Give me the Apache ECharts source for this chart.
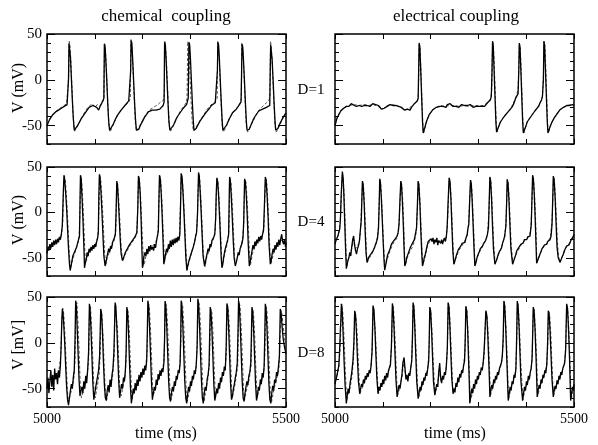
<!DOCTYPE html>
<html>
<head>
<meta charset="utf-8">
<script src="https://cdn.jsdelivr.net/npm/echarts@6/dist/echarts.min.js"></script>
<style>
  html, body { margin: 0; padding: 0; background: #fff; }
  #chart { width: 598px; height: 445px; }
</style>
</head>
<body>
<div id="chart"></div>
<script>
// membrane potential traces, [time (ms), V (mV)], solid = neuron 1, dashed = neuron 2
var chemD1S = [[5000,-50],[5003,-46],[5006,-43],[5009,-41],[5012,-38],[5015,-37],[5018,-35],[5021,-34],[5024,-33],[5027,-31],[5030,-31],[5033,-29],[5036,-29],[5039,-27],[5042,-27],[5044,-25],[5045,0],[5046,40],[5047.5,38],[5049,25],[5051,2],[5053,-22],[5055,-42],[5057,-55],[5058.5,-57],[5061,-55],[5064,-50],[5068,-46],[5072,-42],[5076,-39],[5080,-37],[5084,-33],[5088,-30],[5092,-29],[5096,-28],[5100,-27],[5104,-30],[5108,-33],[5111,-29],[5114,-26],[5117,-24],[5119,-20],[5120,39],[5121.5,36],[5123,22],[5125,0],[5127,-25],[5129,-45],[5131,-55],[5132.5,-57],[5135,-54],[5139,-48],[5143,-43],[5147,-39],[5151,-36],[5155,-33],[5159,-31],[5163,-28],[5167,-26],[5171,-23],[5174,-21],[5175,10],[5176,43],[5177.5,40],[5179,25],[5181,2],[5183,-22],[5185,-42],[5187,-55],[5189,-57],[5192,-54],[5196,-49],[5200,-45],[5204,-41],[5208,-38],[5212,-35],[5216,-34],[5220,-33],[5224,-32],[5228,-33],[5232,-31],[5236,-32],[5240,-30],[5243,-28],[5245,-24],[5246,41],[5247.5,38],[5249,24],[5251,0],[5253,-24],[5255,-45],[5257,-55],[5258.5,-57],[5261,-54],[5265,-49],[5269,-44],[5273,-40],[5277,-37],[5281,-34],[5285,-31],[5289,-29],[5292,-27],[5294,-26],[5295.5,-20],[5297,41],[5298.5,38],[5300,24],[5302,0],[5304,-24],[5306,-45],[5307.5,-55],[5309,-56],[5312,-53],[5316,-49],[5320,-45],[5324,-42],[5328,-39],[5332,-36],[5336,-34],[5340,-31],[5344,-28],[5348,-26],[5352,-25],[5355,-24],[5356.5,10],[5357.5,41],[5359,38],[5360.5,24],[5362.5,0],[5364.5,-24],[5366.5,-45],[5368,-55],[5369.5,-57],[5372,-54],[5376,-49],[5380,-44],[5384,-40],[5388,-36],[5392,-34],[5396,-32],[5400,-29],[5403,-27],[5406,-24],[5407,5],[5408,39],[5409.5,36],[5411,22],[5413,0],[5415,-24],[5417,-45],[5418.5,-55],[5420,-57],[5423,-54],[5427,-49],[5431,-44],[5435,-40],[5439,-37],[5443,-34],[5447,-34],[5451,-32],[5455,-33],[5459,-30],[5463,-32],[5466,-28],[5467,10],[5468,38],[5469.5,36],[5471,22],[5473,0],[5475,-24],[5477,-45],[5478.5,-55],[5480,-57],[5483,-53],[5487,-48],[5491,-44],[5495,-40],[5500,-36]];
var chemD1D = [[5000,-48],[5006,-42],[5012,-38],[5018,-35],[5024,-32],[5030,-30],[5036,-28],[5041,-26],[5044,-24],[5045.5,5],[5046.5,42],[5048,38],[5050,20],[5052,-5],[5054,-30],[5056,-48],[5058,-56],[5061,-55],[5066,-48],[5072,-42],[5078,-36],[5084,-31],[5090,-28],[5095,-26],[5100,-30],[5105,-27],[5110,-29],[5115,-25],[5119,-22],[5120.5,40],[5122,36],[5124,15],[5126,-10],[5128,-35],[5130,-52],[5132,-57],[5136,-52],[5142,-45],[5148,-38],[5154,-34],[5160,-30],[5166,-27],[5171,-24],[5174.5,-20],[5175.5,44],[5177,40],[5179,22],[5181,-2],[5183,-28],[5185,-48],[5187.5,-56],[5191,-54],[5196,-48],[5202,-42],[5208,-37],[5214,-33],[5220,-31],[5226,-29],[5232,-27],[5238,-24],[5243,-23],[5245.5,-15],[5246.5,42],[5248,38],[5250,20],[5252,-5],[5254,-30],[5256,-50],[5258.5,-56],[5262,-53],[5268,-46],[5274,-39],[5280,-33],[5286,-29],[5291,-25],[5293,-20],[5294.5,42],[5296,38],[5298,20],[5300,-5],[5302,-30],[5304,-48],[5306.5,-56],[5310,-54],[5316,-48],[5322,-43],[5328,-38],[5334,-33],[5340,-29],[5346,-26],[5352,-24],[5356,-20],[5357,42],[5358.5,38],[5360.5,20],[5362.5,-5],[5364.5,-30],[5366.5,-50],[5369,-57],[5373,-53],[5379,-46],[5385,-39],[5391,-34],[5397,-31],[5403,-27],[5406.5,-20],[5407.5,40],[5409,36],[5411,20],[5413,-5],[5415,-30],[5417,-50],[5419.5,-57],[5423,-54],[5429,-47],[5435,-41],[5441,-35],[5447,-31],[5453,-28],[5459,-25],[5464,-23],[5466.5,-18],[5467.5,42],[5469,38],[5471,20],[5473,-5],[5475,-30],[5477,-50],[5479.5,-57],[5483,-54],[5489,-47],[5495,-40],[5500,-36]];

var elecD1S = [[5000,-50],[5002,-46],[5004,-42],[5006,-40],[5009,-37],[5012,-34],[5015,-33],[5018,-31],[5021,-30],[5024,-29],[5027,-27],[5029,-29],[5031,-28],[5034,-26],[5036,-28],[5038,-25],[5040,-28],[5043,-27],[5045,-29],[5047,-27],[5050,-28],[5053,-26],[5056,-29],[5058,-27],[5061,-28],[5064,-26],[5067,-28],[5070,-27],[5073,-29],[5076,-27],[5079,-26],[5082,-28],[5085,-27],[5088,-29],[5091,-28],[5094,-30],[5097,-32],[5100,-33],[5103,-31],[5106,-30],[5109,-29],[5112,-28],[5115,-27],[5118,-26],[5121,-28],[5124,-27],[5127,-28],[5130,-27],[5133,-29],[5136,-28],[5139,-30],[5142,-32],[5145,-33],[5148,-34],[5151,-32],[5154,-31],[5157,-33],[5160,-30],[5163,-28],[5166,-26],[5169,-24],[5172,-23],[5174,-20],[5175,10],[5176,40],[5177.5,36],[5179,15],[5181,-15],[5183,-45],[5184.5,-58],[5186,-57],[5188,-52],[5191,-46],[5194,-42],[5197,-38],[5200,-36],[5204,-33],[5208,-31],[5212,-30],[5216,-28],[5220,-29],[5223,-27],[5226,-29],[5229,-28],[5232,-30],[5235,-27],[5238,-28],[5241,-26],[5244,-28],[5247,-29],[5250,-27],[5253,-29],[5256,-28],[5259,-30],[5262,-28],[5265,-27],[5268,-29],[5271,-28],[5274,-30],[5277,-28],[5280,-29],[5283,-27],[5286,-28],[5289,-30],[5292,-28],[5295,-29],[5298,-28],[5301,-29],[5304,-27],[5307,-29],[5310,-28],[5313,-29],[5316,-27],[5319,-25],[5322,-24],[5325,-22],[5327,-18],[5328.5,10],[5329.5,42],[5331,38],[5332.5,15],[5334.5,-15],[5336.5,-45],[5338,-57],[5340,-56],[5343,-50],[5346,-46],[5350,-43],[5354,-40],[5358,-38],[5362,-35],[5366,-33],[5370,-30],[5374,-26],[5378,-20],[5383,-15],[5384.5,10],[5385.5,40],[5387,36],[5388.5,15],[5390.5,-15],[5392.5,-45],[5394,-58],[5396,-57],[5399,-51],[5402,-46],[5406,-43],[5410,-40],[5414,-37],[5418,-34],[5422,-32],[5426,-29],[5429,-25],[5432,-22],[5434,-18],[5436,0],[5437,42],[5438.5,38],[5440,15],[5442,-15],[5444,-45],[5445.5,-58],[5447.5,-57],[5450,-51],[5454,-46],[5458,-42],[5462,-39],[5466,-36],[5470,-33],[5474,-32],[5478,-30],[5482,-29],[5485,-28],[5488,-27],[5491,-28],[5494,-26],[5497,-27],[5500,-28]];
var elecD1D = [[5000,-49],[5004,-42],[5008,-37],[5013,-33],[5018,-31],[5024,-29],[5030,-28],[5040,-27],[5050,-28],[5060,-27],[5070,-28],[5080,-27],[5090,-29],[5100,-32],[5110,-28],[5120,-27],[5130,-28],[5140,-31],[5148,-33],[5155,-31],[5162,-28],[5168,-25],[5173,-22],[5174.5,-15],[5175.5,20],[5176.3,41],[5178,35],[5180,10],[5182,-22],[5184,-50],[5185.5,-58],[5188,-53],[5192,-45],[5196,-40],[5200,-36],[5206,-32],[5212,-30],[5220,-28],[5230,-29],[5240,-28],[5250,-28],[5260,-29],[5270,-28],[5280,-29],[5290,-28],[5300,-28],[5310,-28],[5316,-26],[5322,-23],[5326,-20],[5328,-10],[5329,25],[5330,42],[5331.5,37],[5333.5,12],[5335.5,-20],[5337.5,-50],[5339,-57],[5342,-52],[5346,-46],[5352,-41],[5358,-37],[5364,-34],[5370,-29],[5376,-22],[5380,-17],[5383,-10],[5384.5,15],[5385.8,40],[5387.5,35],[5389.5,12],[5391.5,-20],[5393.5,-50],[5395,-58],[5398,-53],[5402,-46],[5408,-41],[5414,-37],[5420,-33],[5426,-28],[5431,-23],[5434,-18],[5436,5],[5437.3,42],[5439,37],[5441,12],[5443,-20],[5445,-50],[5446.5,-58],[5449,-53],[5453,-47],[5458,-42],[5464,-37],[5470,-33],[5478,-30],[5486,-28],[5494,-27],[5500,-28]];

var chemD4S = [[5000,-45],[5002,-38],[5004,-42],[5006,-35],[5008,-40],[5010,-33],[5012,-38],[5014,-31],[5016,-36],[5018,-30],[5020,-35],[5022,-29],[5024,-33],[5026,-27],[5028,-30],[5030,-24],[5032,-15],[5034,20],[5035.5,41],[5037,36],[5039,22],[5041,5],[5043,-18],[5045,-40],[5047,-57],[5048.5,-64],[5050,-60],[5052,-54],[5054,-48],[5056,-50],[5058,-43],[5060,-45],[5062,-38],[5064,-36],[5066,-30],[5068,-26],[5069,10],[5070,41],[5071.5,37],[5073,20],[5075,-5],[5077,-35],[5078.5,-61],[5080,-56],[5082,-52],[5084,-44],[5086,-48],[5088,-40],[5090,-44],[5092,-38],[5094,-42],[5096,-36],[5098,-40],[5100,-35],[5102,-38],[5104,-32],[5106,-28],[5107.5,-20],[5108.5,20],[5109.6,42],[5111,38],[5113,22],[5115,0],[5117,-25],[5119,-48],[5121.5,-59],[5123,-56],[5125,-50],[5127,-45],[5129,-40],[5131,-44],[5133,-37],[5135,-40],[5137,-33],[5139,-35],[5141,-28],[5143,-24],[5144.5,0],[5146,34.5],[5147.5,30],[5149,15],[5151,-5],[5153,-28],[5155,-45],[5157.8,-53],[5160,-50],[5162,-47],[5164,-44],[5166,-46],[5168,-40],[5170,-42],[5172,-36],[5174,-38],[5176,-33],[5178,-34],[5180,-30],[5182,-31],[5184,-27],[5186,-28],[5188,-22],[5190,5],[5191.3,40],[5193,36],[5195,20],[5197,-10],[5198.5,-40],[5199.7,-61],[5201,-58],[5203,-48],[5205,-44],[5207,-48],[5209,-40],[5211,-46],[5213,-37],[5215,-43],[5217,-36],[5219,-41],[5221,-38],[5223,-42],[5225,-35],[5227,-39],[5229,-32],[5231,-30],[5233,-20],[5234,10],[5235.3,41],[5237,37],[5239,20],[5241,-5],[5243,-35],[5244.4,-57],[5246,-53],[5248,-46],[5250,-40],[5252,-44],[5254,-35],[5256,-40],[5258,-31],[5260,-38],[5262,-30],[5264,-36],[5266,-29],[5268,-34],[5270,-28],[5272,-33],[5274,-27],[5276,-31],[5278,-24],[5279.5,10],[5280.7,43],[5282.5,39],[5284.5,22],[5286.5,0],[5288.5,-25],[5290.5,-50],[5292.6,-64],[5294,-60],[5296,-55],[5300,-48],[5303,-43],[5306,-38],[5309,-32],[5311,-26],[5313,-22],[5315,0],[5317,44],[5318.5,40],[5320.5,22],[5322.5,0],[5324.5,-25],[5326.5,-48],[5329.6,-59],[5331,-56],[5333,-50],[5335,-45],[5337,-40],[5339,-43],[5341,-35],[5343,-38],[5345,-31],[5347,-33],[5349,-27],[5351,-24],[5353,-5],[5354,20],[5355.4,38],[5357,34],[5359,18],[5361,-5],[5363,-30],[5364.5,-50],[5366,-61],[5368,-56],[5370,-48],[5372,-42],[5374,-38],[5376,-34],[5378,-30],[5380,-24],[5381,10],[5382,39],[5383.5,35],[5385.5,18],[5387.5,-5],[5389.5,-30],[5391.5,-50],[5393.9,-59],[5396,-55],[5398,-50],[5400,-44],[5402,-47],[5404,-40],[5406,-42],[5408,-34],[5410,-28],[5411.5,-10],[5413.4,37],[5415,34],[5417,18],[5419,-5],[5421,-35],[5423.2,-59],[5425,-55],[5427,-48],[5429,-42],[5431,-36],[5433,-40],[5435,-32],[5437,-37],[5439,-30],[5441,-34],[5443,-27],[5445,-32],[5447,-26],[5449,-30],[5451,-24],[5453,-20],[5455,10],[5456.7,39],[5458.5,35],[5460.5,18],[5462.5,-5],[5464.5,-35],[5467.2,-57],[5469,-53],[5471,-46],[5473,-40],[5475,-44],[5477,-36],[5479,-41],[5481,-33],[5483,-38],[5485,-30],[5487,-36],[5489,-29],[5491,-24],[5493,-32],[5495,-35],[5497,-30],[5499,-38],[5500,-33]];
var chemD4D = [[5000,-40],[5005,-36],[5010,-37],[5015,-33],[5020,-32],[5025,-29],[5030,-26],[5033,-10],[5035,30],[5036.5,40],[5038.5,35],[5041,15],[5043.5,-10],[5046,-40],[5049,-62],[5052,-55],[5056,-48],[5060,-42],[5064,-35],[5067,-28],[5069,0],[5070.5,40],[5072.5,35],[5075,12],[5077.5,-20],[5080,-55],[5083,-52],[5088,-44],[5093,-40],[5098,-37],[5103,-33],[5107,-25],[5109,10],[5110.5,41],[5112.5,36],[5115,15],[5117.5,-10],[5120,-40],[5122.5,-58],[5126,-50],[5131,-43],[5136,-37],[5141,-30],[5144,-20],[5146,30],[5147.5,33],[5150,15],[5152.5,-10],[5155,-38],[5158.5,-54],[5163,-47],[5168,-42],[5173,-37],[5178,-33],[5183,-29],[5188,-24],[5190,10],[5191.5,41],[5193.5,36],[5196,15],[5198.5,-15],[5201,-45],[5203,-58],[5208,-46],[5213,-41],[5218,-38],[5223,-36],[5228,-32],[5232,-25],[5234,10],[5235.8,40],[5238,35],[5240.5,12],[5243,-20],[5245.5,-52],[5248,-50],[5253,-42],[5258,-37],[5263,-33],[5268,-31],[5273,-28],[5277,-24],[5279,5],[5281,42],[5283,38],[5285.5,18],[5288,-10],[5290.5,-40],[5293.5,-63],[5297,-55],[5302,-45],[5307,-36],[5311,-27],[5314,-15],[5316,20],[5317.5,43],[5319.5,38],[5322,15],[5324.5,-15],[5327,-45],[5330.5,-60],[5334,-50],[5339,-42],[5344,-35],[5349,-28],[5352,-20],[5354,15],[5356,37],[5358,33],[5360.5,12],[5363,-20],[5365.5,-50],[5367,-60],[5371,-48],[5376,-37],[5380,-26],[5381.5,0],[5383,38],[5385,33],[5387.5,10],[5390,-20],[5392.5,-50],[5394.5,-58],[5399,-48],[5404,-41],[5409,-30],[5411.5,-15],[5413,20],[5414.5,36],[5416.5,32],[5419,10],[5421.5,-20],[5424,-50],[5425.5,-58],[5430,-45],[5435,-38],[5440,-33],[5445,-30],[5450,-26],[5454,-15],[5456,20],[5457.5,38],[5459.5,34],[5462,12],[5464.5,-20],[5467,-50],[5469,-56],[5474,-45],[5479,-38],[5484,-34],[5489,-30],[5494,-33],[5500,-35]];

var elecD4S = [[5000,-35],[5002,-31],[5004,-29],[5006,-26],[5008,-22],[5010,-18],[5011.5,-5],[5013,20],[5015.4,45],[5017,38],[5018.5,20],[5020,-5],[5021.5,-30],[5022.8,-50],[5023.7,-62],[5025,-60],[5027,-53],[5029,-50],[5031,-44],[5033,-48],[5035,-38],[5037,-30],[5039,-26],[5041,-36],[5043,-42],[5045,-46],[5047,-40],[5049,-37],[5051,-32],[5053,-20],[5055,-8],[5057.3,34.5],[5059,30],[5061,10],[5063,-20],[5065,-45],[5067,-55],[5069,-52],[5071,-49],[5073,-51],[5075,-46],[5077,-48],[5079,-43],[5081,-41],[5083,-38],[5085,-36],[5087,-32],[5089,-28],[5091,-17],[5092.5,10],[5093.6,37],[5095,33],[5097,15],[5099,-10],[5101,-35],[5102.5,-52],[5104,-63.6],[5106,-58],[5108,-52],[5110,-47],[5112,-49],[5114,-42],[5116,-40],[5118,-35],[5120,-37],[5122,-32],[5124,-33],[5126,-29],[5128,-30],[5130,-26],[5132,-22],[5134,-13],[5136,15],[5137.6,34.5],[5139,31],[5141,12],[5143,-15],[5144.5,-40],[5146,-59],[5148,-56],[5150,-50],[5152,-48],[5154,-44],[5156,-42],[5158,-38],[5160,-40],[5162,-34],[5164,-33],[5166,-30],[5168,-28],[5170.6,-17],[5172.5,10],[5173.9,34.5],[5175.5,30],[5177.5,10],[5179.5,-20],[5181.5,-45],[5183,-59],[5185,-55],[5187,-49],[5189,-46],[5191,-41],[5193,-36],[5195,-32],[5197,-30],[5199,-34],[5201,-29],[5203,-32],[5205,-28],[5207,-35],[5209,-30],[5211,-33],[5213,-28],[5215,-36],[5217,-31],[5219,-29],[5221,-34],[5223,-30],[5225,-35],[5227,-31],[5229,-28],[5231,-32],[5233,-26],[5234.6,-17],[5236.5,10],[5238.8,38],[5240.5,34],[5242.5,15],[5244.5,-15],[5246.5,-42],[5248.6,-57],[5250.5,-54],[5252.5,-50],[5254,-47],[5256,-44],[5258,-41],[5260,-42],[5262,-38],[5264.7,-37],[5266,-34],[5268,-35],[5270,-32],[5272,-33],[5274,-28],[5276.5,-25],[5278,-18],[5280,-13],[5281.5,10],[5283.5,35.6],[5285,32],[5287,12],[5289,-15],[5291,-42],[5292.6,-59],[5294.5,-56],[5297,-50],[5299.6,-46],[5302,-43],[5304,-40],[5306,-41],[5308.7,-37],[5311,-34],[5313,-32],[5315,-31],[5317,-28],[5319,-24],[5321,-17],[5322.5,10],[5324,39],[5325.5,35],[5327.5,15],[5329.5,-15],[5331.5,-40],[5334.5,-57],[5336.5,-55],[5339,-51],[5341.5,-46],[5344,-43],[5346,-41],[5348.5,-39],[5351,-33],[5353,-30],[5355,-26],[5357.5,-15],[5359,10],[5360.3,36.4],[5362,32],[5364,12],[5366,-15],[5368,-40],[5371.5,-57],[5373.5,-55],[5376,-50],[5378,-47],[5380,-42.5],[5382,-44],[5384,-39],[5387,-37],[5389,-35],[5391,-36],[5394,-33.5],[5396,-30],[5398,-32],[5401,-30],[5403,-27],[5405,-29],[5408,-26],[5410.6,-13.5],[5412,15],[5413.4,41],[5415,37],[5417,18],[5419,-10],[5420.5,-35],[5421.8,-56],[5424,-54],[5426,-50],[5428.8,-46],[5431,-43],[5433,-40],[5435.8,-39],[5438,-36],[5440,-37],[5443,-35],[5445,-32],[5447,-33],[5450,-30],[5452,-26],[5454,-13.5],[5455.5,15],[5456.7,40],[5458.5,36],[5460.5,16],[5462.5,-12],[5464.5,-38],[5467,-50],[5470.7,-55],[5473,-53],[5475,-49],[5477.6,-46],[5480,-42],[5482,-40],[5484.6,-37],[5487,-35],[5489,-36],[5491.6,-33.5],[5494,-30],[5496,-31],[5498,-27],[5500,-24]];
var elecD4D = [[5000,-33],[5004,-29],[5008,-22],[5011,-10],[5013,15],[5015.5,43],[5017.5,36],[5019.5,15],[5021.5,-15],[5023,-40],[5024.5,-60],[5027,-54],[5031,-46],[5035,-40],[5039,-30],[5043,-40],[5047,-42],[5051,-33],[5054,-15],[5056,15],[5057.8,34],[5059.5,30],[5061.5,12],[5063.5,-15],[5065.5,-42],[5067.5,-55],[5072,-50],[5077,-46],[5082,-40],[5087,-33],[5090.5,-20],[5092.5,10],[5094,36],[5095.5,33],[5097.5,15],[5099.5,-10],[5101.5,-35],[5104.5,-62],[5109,-52],[5114,-44],[5119,-37],[5124,-32],[5129,-29],[5133,-20],[5136,10],[5138,34],[5139.5,31],[5141.5,15],[5143.5,-10],[5145,-35],[5146.5,-58],[5151,-50],[5156,-44],[5161,-39],[5166,-32],[5170,-22],[5172.5,5],[5174.3,34],[5176,30],[5178,12],[5180,-15],[5182,-40],[5183.5,-58],[5188,-50],[5193,-38],[5198,-32],[5205,-31],[5212,-31],[5220,-32],[5228,-31],[5233,-27],[5236,-5],[5239.2,38],[5241,34],[5243,15],[5245,-10],[5247,-38],[5249,-56],[5254,-49],[5259,-42],[5264,-38],[5270,-33],[5275,-27],[5279,-15],[5281.5,10],[5283.8,35],[5285.5,32],[5287.5,15],[5289.5,-10],[5291.5,-38],[5293,-58],[5298,-49],[5303,-43],[5309,-37],[5315,-31],[5319,-23],[5322,0],[5324.3,38],[5326,35],[5328,18],[5330,-10],[5332,-35],[5335,-56],[5340,-49],[5345,-43],[5350,-35],[5355,-27],[5358,-10],[5360.6,36],[5362.5,32],[5364.5,15],[5366.5,-10],[5368.5,-35],[5372,-56],[5377,-48],[5383,-42],[5389,-36],[5395,-32],[5401,-29],[5407,-26],[5410,-15],[5412,10],[5413.7,40],[5415.5,37],[5417.5,20],[5419.5,-5],[5421,-30],[5422.5,-55],[5428,-47],[5434,-40],[5440,-36],[5446,-32],[5451,-26],[5454,-10],[5455.8,15],[5457,39],[5459,35],[5461,18],[5463,-5],[5465,-30],[5467.5,-48],[5471,-55],[5477,-47],[5483,-39],[5489,-35],[5495,-30],[5500,-26]];

var chemD8S = [[5000,-50],[5002,-38],[5004,-55],[5006,-42],[5008,-30],[5010,-48],[5012,-35],[5014,-52],[5016,-28],[5018,-40],[5020,-33],[5022,-45],[5024,-30],[5026,-38],[5028,-25],[5029.5,-5],[5031,25],[5032.1,37],[5033.5,33],[5035,20],[5037,0],[5039,-25],[5041,-48],[5043,-62],[5045,-68],[5047,-60],[5049,-52],[5051,-45],[5053,-50],[5055,-38],[5057,-30],[5058.5,0],[5060,46],[5061.5,40],[5063,18],[5065,-10],[5067,-40],[5069,-58],[5071,-52],[5073,-48],[5075,-55],[5077,-42],[5079,-50],[5081,-36],[5083,-44],[5085,-30],[5087,-10],[5088.7,42.5],[5090,38],[5092,15],[5094,-15],[5096,-45],[5098,-62],[5100,-55],[5102,-48],[5104,-42],[5106,-36],[5108,-30],[5110,-15],[5112.4,37],[5114,33],[5116,12],[5118,-20],[5120,-45],[5122,-60],[5124,-63],[5126,-52],[5128,-46],[5130,-54],[5132,-40],[5134,-48],[5136,-35],[5138,-28],[5140,-10],[5142.5,44],[5144,40],[5146,18],[5148,-12],[5150,-42],[5152,-60],[5154,-52],[5156,-45],[5158,-50],[5160,-38],[5162,-42],[5164,-30],[5165.5,-10],[5167,39],[5168.5,35],[5170.5,12],[5172.5,-20],[5174.5,-48],[5176.5,-66],[5178.5,-58],[5180.5,-50],[5182.5,-55],[5184.5,-44],[5186.5,-52],[5188.5,-40],[5190.5,-47],[5192.5,-35],[5194.5,-42],[5196.5,-32],[5198.5,-38],[5200.5,-28],[5202.5,-35],[5204.5,-25],[5206.5,-30],[5208.5,-20],[5209.8,10],[5211,46],[5212.5,41],[5214.5,18],[5216.5,-12],[5218.5,-42],[5220.5,-62],[5222.5,-55],[5224.5,-48],[5226.5,-52],[5228.5,-40],[5230.5,-46],[5232.5,-34],[5234.5,-40],[5236.5,-30],[5238.5,-36],[5240.5,-28],[5242.5,-32],[5244.5,-22],[5246,5],[5247,45.5],[5248.5,41],[5250.5,18],[5252.5,-12],[5254.5,-42],[5256.5,-60],[5258.5,-64],[5260.5,-54],[5262.5,-48],[5264.5,-53],[5266.5,-42],[5268.5,-47],[5270.5,-36],[5272.5,-40],[5274.5,-30],[5276.5,-33],[5278.5,-22],[5279.8,10],[5280.7,46],[5282.2,41],[5284.2,18],[5286.2,-12],[5288.2,-42],[5290.2,-60],[5292.2,-66],[5294.2,-56],[5296.2,-48],[5298.2,-53],[5300.2,-42],[5302.2,-47],[5304.2,-36],[5306.2,-40],[5308.2,-30],[5310.2,-34],[5312.2,-24],[5314,-5],[5315.6,48],[5317,43],[5319,20],[5321,-10],[5323,-40],[5325,-60],[5327,-66],[5329,-55],[5331,-48],[5333,-52],[5335,-40],[5337,-35],[5339,-25],[5340.2,5],[5341.5,39],[5343,35],[5345,14],[5347,-15],[5349,-45],[5351,-63],[5353,-57],[5355,-50],[5357,-55],[5359,-44],[5361,-50],[5363,-38],[5365,-43],[5367,-32],[5369,-36],[5371,-26],[5373,-30],[5374.8,-5],[5376.4,43],[5378,39],[5380,16],[5382,-14],[5384,-44],[5386,-62],[5388,-58],[5390,-50],[5392,-45],[5394,-38],[5396,-32],[5398,-22],[5399.5,10],[5400.8,46],[5402.3,41],[5404.3,18],[5406.3,-12],[5408.3,-42],[5410.3,-60],[5412.3,-64],[5414.3,-55],[5416.3,-48],[5418.3,-42],[5420.3,-46],[5422.3,-36],[5424.3,-32],[5426.3,-22],[5427.5,5],[5428.8,39],[5430.3,35],[5432.3,14],[5434.3,-15],[5436.3,-45],[5438.3,-63],[5440.3,-57],[5442.3,-48],[5444.3,-52],[5446.3,-40],[5448.3,-45],[5450.3,-33],[5452.3,-38],[5454.3,-25],[5455.5,5],[5456.7,42.5],[5458.2,38],[5460.2,16],[5462.2,-14],[5464.2,-44],[5466.2,-62],[5468.2,-66],[5470.2,-55],[5472.2,-47],[5474.2,-52],[5476.2,-40],[5478.2,-44],[5480.2,-32],[5482.2,-36],[5484.2,-26],[5486.2,-15],[5488,37],[5489.5,34],[5491.5,20],[5494,5],[5497,-5],[5500,-12]];
var chemD8D = [[5000,-45],[5005,-40],[5010,-38],[5015,-36],[5020,-35],[5025,-30],[5028.5,-15],[5031,20],[5033,38],[5035,32],[5037.5,10],[5040,-20],[5042.5,-50],[5045,-65],[5048,-58],[5052,-50],[5056,-40],[5058.5,-20],[5060.5,40],[5062.5,44],[5065,20],[5067.5,-15],[5070,-50],[5072,-60],[5076,-52],[5080,-45],[5084,-36],[5087,-20],[5089,35],[5091,40],[5093.5,15],[5096,-20],[5098.5,-55],[5101,-60],[5105,-48],[5109,-35],[5111.5,-10],[5113,34],[5115,30],[5117.5,5],[5120,-30],[5122.5,-58],[5125,-62],[5129,-50],[5133,-45],[5137,-38],[5140.5,-15],[5142.5,40],[5145,42],[5147.5,15],[5150,-20],[5152.5,-55],[5155,-58],[5159,-48],[5163,-38],[5165.5,-20],[5167.5,37],[5170,33],[5172.5,8],[5175,-30],[5177.5,-62],[5182,-55],[5187,-48],[5192,-42],[5197,-36],[5202,-32],[5206,-28],[5209.5,-10],[5211.5,44],[5214,40],[5216.5,15],[5219,-20],[5221.5,-58],[5226,-52],[5231,-44],[5236,-36],[5241,-30],[5245,-20],[5247.5,44],[5250,40],[5252.5,15],[5255,-20],[5257.5,-55],[5259.5,-62],[5264,-52],[5269,-42],[5274,-34],[5278,-25],[5280,0],[5281.5,45],[5284,40],[5286.5,15],[5289,-20],[5291.5,-55],[5293.5,-64],[5298,-52],[5303,-43],[5308,-35],[5312,-27],[5314.5,0],[5316.5,46],[5319,41],[5321.5,15],[5324,-20],[5326.5,-55],[5328.5,-64],[5333,-50],[5337,-38],[5340,-20],[5342.5,37],[5345,33],[5347.5,8],[5350,-30],[5352.5,-60],[5357,-52],[5362,-45],[5367,-37],[5372,-30],[5375,-15],[5377,41],[5379.5,37],[5382,12],[5384.5,-25],[5387,-60],[5391,-52],[5395,-40],[5399,-25],[5401.5,44],[5404,40],[5406.5,15],[5409,-20],[5411.5,-55],[5413.5,-62],[5418,-50],[5423,-40],[5427,-25],[5429.5,37],[5432,33],[5434.5,8],[5437,-30],[5439.5,-60],[5444,-50],[5449,-42],[5454,-30],[5456,-10],[5457.5,40],[5460,36],[5462.5,10],[5465,-25],[5467.5,-60],[5470,-64],[5475,-50],[5480,-40],[5485,-30],[5487.5,0],[5489,35],[5491.5,32],[5494,18],[5497,5],[5500,-5]];

var elecD8S = [[5000,-45],[5002,-40],[5004,-36],[5006,-30],[5008,-25],[5009.5,-10],[5011,12],[5012.3,25],[5013.3,42.5],[5015,35],[5017,10],[5019,-20],[5021,-45],[5023.7,-66],[5025.5,-58],[5027.5,-50],[5029.5,-55],[5031.5,-44],[5033.5,-38],[5035.5,-30],[5037.5,-20],[5039.5,0],[5041.2,35],[5043,30],[5045,10],[5047,-18],[5049,-42],[5051.7,-55.6],[5053.5,-50],[5055.5,-45],[5057.5,-48],[5059.5,-40],[5061.5,-44],[5063.5,-36],[5065.5,-40],[5067.5,-33],[5069.5,-37],[5071.5,-30],[5073.5,-33],[5075.5,-25],[5077.5,-10],[5079.6,40.7],[5081.5,36],[5083.5,15],[5085.5,-12],[5087.5,-38],[5090,-55.6],[5092,-48],[5094,-52],[5096,-44],[5098,-48],[5100,-40],[5102,-45],[5104,-36],[5106,-41],[5108,-33],[5110,-38],[5112,-30],[5114,-32],[5116,-24],[5118,-5],[5120,43],[5121.5,38],[5123.5,16],[5125.5,-12],[5127.5,-40],[5130,-59],[5132,-52],[5134,-46],[5136,-50],[5138,-42],[5140,-35],[5142,-22],[5144.5,-16],[5146.5,-28],[5148.5,-40],[5150.5,-35],[5152.5,-42],[5154.5,-33],[5156.5,-36],[5158.5,-27],[5160.5,-20],[5162,5],[5163.4,44],[5165,39],[5167,16],[5169,-14],[5171,-42],[5174,-61],[5176,-54],[5178,-48],[5180,-52],[5182,-42],[5184,-46],[5186,-38],[5188,-41],[5190,-33],[5192,-36],[5194,-28],[5196,-20],[5197.2,5],[5198.3,39],[5200,35],[5202,14],[5204,-15],[5206,-42],[5208.8,-57],[5211,-50],[5213,-45],[5215,-48],[5217,-32],[5219,-22],[5221,-38],[5223,-44],[5225,-36],[5227,-40],[5229,-32],[5231,-35],[5233,-25],[5235,-5],[5236.7,44],[5238.5,39],[5240.5,16],[5242.5,-14],[5244.5,-40],[5247,-55.6],[5249,-50],[5251,-54],[5253,-44],[5255,-48],[5257,-38],[5259,-43],[5261,-34],[5263,-38],[5265,-30],[5267,-33],[5269,-25],[5271,-20],[5272.5,5],[5273.7,39.6],[5275.5,35],[5277.5,14],[5279.5,-20],[5281,-45],[5282,-66],[5284,-58],[5286,-50],[5288,-55],[5290,-45],[5292,-50],[5294,-40],[5296,-45],[5298,-36],[5300,-40],[5302,-32],[5304,-35],[5306,-27],[5308,-30],[5310,-22],[5312,-8],[5314,15],[5315.6,35],[5317.5,30],[5319.5,10],[5321.5,-18],[5323,-40],[5324,-59],[5326,-52],[5328,-46],[5330,-50],[5332,-40],[5334,-44],[5336,-36],[5338,-40],[5340,-32],[5342,-35],[5344,-28],[5346,-30],[5348,-22],[5350,-15],[5351.8,5],[5353.4,45.5],[5355,40],[5357,18],[5359,-12],[5361,-42],[5362.4,-63],[5364.5,-55],[5366.5,-48],[5368.5,-52],[5370.5,-42],[5372.5,-45],[5374.5,-35],[5376.5,-38],[5378.5,-28],[5380,5],[5381.3,45.5],[5383,40],[5385,18],[5387,-12],[5389,-42],[5392.5,-63],[5394.5,-55],[5396.5,-48],[5398.5,-52],[5400.5,-42],[5402.5,-46],[5404.5,-36],[5406.5,-40],[5408.5,-32],[5410.5,-28],[5412.5,-15],[5414.8,39],[5416.5,35],[5418.5,14],[5420.5,-15],[5422,-40],[5423,-59],[5425,-52],[5427,-46],[5429,-50],[5431,-40],[5433,-44],[5435,-35],[5437,-38],[5439,-30],[5441,-33],[5443,-24],[5444.8,0],[5446.2,35],[5448,31],[5450,12],[5452,-15],[5454,-40],[5456.7,-59],[5458.5,-52],[5460.5,-47],[5462.5,-50],[5464.5,-41],[5466.5,-45],[5468.5,-36],[5470.5,-40],[5472.5,-32],[5474.5,-35],[5476.5,-28],[5478.5,-30],[5480.5,-22],[5482.5,-8],[5484.6,42.5],[5486.5,37],[5488.5,15],[5490.5,-15],[5492,-45],[5493,-63],[5495,-55],[5497,-48],[5499,-52],[5500,-45]];
var elecD8D = [[5000,-42],[5004,-35],[5008,-26],[5011,-5],[5013,30],[5014.5,42],[5016.5,32],[5019,5],[5021.5,-30],[5024.5,-63],[5028,-55],[5032,-48],[5036,-35],[5039,-15],[5041.5,30],[5042.5,34],[5045,22],[5047.5,-5],[5050,-35],[5052.5,-55],[5056,-50],[5061,-44],[5066,-38],[5071,-33],[5075,-27],[5078,-5],[5080,40],[5082,38],[5084.5,12],[5087,-20],[5089.5,-45],[5091,-55],[5096,-48],[5101,-43],[5106,-38],[5111,-33],[5115,-27],[5118.5,0],[5120.5,42],[5122.5,37],[5125,12],[5127.5,-20],[5130.5,-58],[5135,-50],[5140,-38],[5144,-20],[5148,-38],[5153,-38],[5158,-30],[5161,-15],[5163.5,43],[5165.5,40],[5168,12],[5170.5,-20],[5173,-50],[5175,-60],[5180,-50],[5185,-43],[5190,-36],[5194,-28],[5197,-5],[5198.8,38],[5200.5,35],[5203,12],[5205.5,-20],[5208,-45],[5209.5,-56],[5214,-47],[5218,-30],[5222,-42],[5227,-38],[5232,-30],[5235,-10],[5237,43],[5239,40],[5241.5,12],[5244,-20],[5246.5,-50],[5248,-55],[5253,-47],[5258,-40],[5263,-35],[5268,-28],[5272,-10],[5274,40],[5276,36],[5278.5,10],[5281,-30],[5283,-64],[5288,-54],[5293,-46],[5298,-39],[5303,-33],[5308,-28],[5312,-15],[5315,25],[5316,35],[5318.5,28],[5321,5],[5323.5,-30],[5325,-58],[5330,-48],[5335,-40],[5340,-34],[5345,-29],[5349,-20],[5352,0],[5353.8,45],[5355.5,40],[5358,15],[5360.5,-20],[5363,-62],[5368,-50],[5373,-42],[5378,-30],[5380,-5],[5381.8,45],[5383.5,40],[5386,15],[5388.5,-20],[5393,-62],[5398,-50],[5403,-43],[5408,-35],[5412,-20],[5415,38],[5417,35],[5419.5,12],[5422,-20],[5424,-58],[5429,-48],[5434,-40],[5439,-33],[5443,-25],[5445,-5],[5446.8,35],[5449,31],[5451.5,10],[5454,-25],[5457,-58],[5462,-48],[5467,-41],[5472,-34],[5477,-29],[5481,-18],[5483,0],[5485,42],[5487,37],[5489.5,12],[5492,-25],[5494,-62],[5498,-52],[5500,-48]];

var timeTicks = [5000, 5500];
var voltTicks = [-50, 0, 50];
var columnTitles = ['chemical  coupling', 'electrical coupling'];
var rowLabels = ['D=1', 'D=4', 'D=8'];
var yNames = ['V (mV)', 'V (mV)', 'V [mV]'];

var chart = echarts.init(document.getElementById('chart'));

var FONT = '"Liberation Serif", "DejaVu Serif", serif';
var colLeft = [47, 335];
var rowTop = [34, 167, 297];
var rowH = [110, 109, 110];

var panels = [
    {s: chemD1S, d: chemD1D, col: 0, row: 0},
    {s: elecD1S, d: elecD1D, col: 1, row: 0},
    {s: chemD4S, d: chemD4D, col: 0, row: 1},
    {s: elecD4S, d: elecD4D, col: 1, row: 1},
    {s: chemD8S, d: chemD8D, col: 0, row: 2},
    {s: elecD8S, d: elecD8D, col: 1, row: 2}
];

var grid = [], xAxis = [], yAxis = [], series = [];
var plain = function (v) { return String(v); };

panels.forEach(function (p, i) {
    grid.push({
        left: colLeft[p.col], top: rowTop[p.row], width: 239, height: rowH[p.row],
        show: true, borderColor: '#000', borderWidth: 1.5, backgroundColor: 'transparent'
    });
    var bottomRow = p.row === 2;
    ['bottom', 'top'].forEach(function (pos, k) {
        xAxis.push({
            gridIndex: i, type: 'value', position: pos, min: 5000, max: 5500, interval: 100,
            axisLine: {show: false, onZero: false},
            axisTick: {show: true, inside: true, length: 5, lineStyle: {color: '#000', width: 1}},
            splitLine: {show: false},
            axisLabel: {
                show: bottomRow && k === 0, customValues: timeTicks, margin: 5, formatter: plain,
                color: '#000', fontFamily: FONT, fontSize: 14
            }
        });
    });
    ['left', 'right'].forEach(function (pos, k) {
        // minor ticks every 10 mV
        yAxis.push({
            gridIndex: i, type: 'value', position: pos, min: -70, max: 50, interval: 10,
            axisLine: {show: false, onZero: false},
            axisTick: {show: true, inside: true, length: 4, lineStyle: {color: '#000', width: 1}},
            splitLine: {show: false},
            axisLabel: {show: false}
        });
        // major ticks
        yAxis.push({
            gridIndex: i, type: 'value', position: pos, min: -70, max: 50, interval: 10,
            axisLine: {show: false, onZero: false},
            axisTick: {show: true, inside: true, length: 8, customValues: voltTicks, lineStyle: {color: '#000', width: 1}},
            splitLine: {show: false},
            axisLabel: {
                show: p.col === 0 && k === 0, customValues: voltTicks, margin: 5, formatter: plain,
                color: '#000', fontFamily: FONT, fontSize: 15
            }
        });
    });
    series.push({
        type: 'line', xAxisIndex: i * 2, yAxisIndex: i * 4, data: p.d,
        showSymbol: false, silent: true, z: 2,
        lineStyle: {color: '#555', width: 1, type: [3, 2]}
    });
    series.push({
        type: 'line', xAxisIndex: i * 2, yAxisIndex: i * 4, data: p.s,
        showSymbol: false, silent: true, z: 3,
        lineStyle: {color: '#000', width: 1.3}
    });
});

var txt = function (text, x, y, size, rot) {
    return {
        type: 'text', x: x, y: y, rotation: rot || 0,
        style: {text: text, fill: '#000', font: size + 'px ' + FONT, textAlign: 'center', textVerticalAlign: 'middle'}
    };
};

var graphic = [
    txt(columnTitles[0], 166, 17, 17),
    txt(columnTitles[1], 456, 17, 17),
    txt(rowLabels[0], 311, 90, 15),
    txt(rowLabels[1], 311, 222, 15),
    txt(rowLabels[2], 311, 353, 15),
    txt(yNames[0], 19, 88, 16, Math.PI / 2),
    txt(yNames[1], 19, 220, 16, Math.PI / 2),
    txt(yNames[2], 19, 345, 16, Math.PI / 2),
    txt('time (ms)', 166, 434, 16),
    txt('time (ms)', 455, 434, 16)
];

chart.setOption({
    animation: false,
    backgroundColor: '#fff',
    grid: grid,
    xAxis: xAxis,
    yAxis: yAxis,
    graphic: graphic,
    series: series
});
</script>
</body>
</html>
